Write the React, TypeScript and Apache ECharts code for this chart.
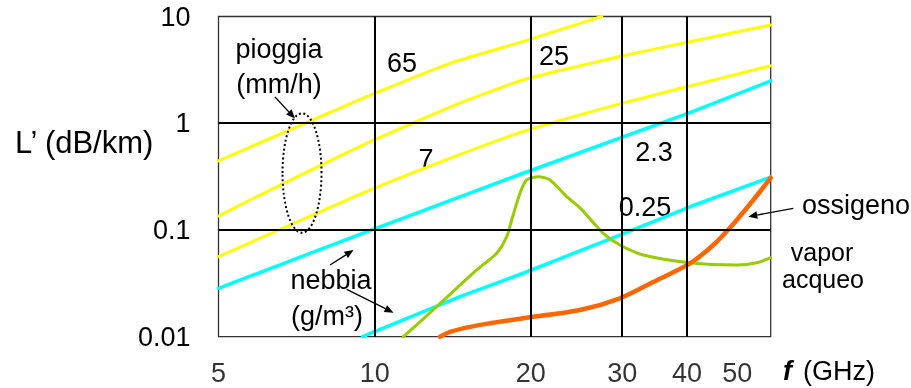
import { useEffect, useRef } from "react";
import * as echarts from "echarts";

// Specific attenuation L' (dB/km) versus frequency f (GHz).
// Rain curves, labelled by rain rate in mm/h
const rain65: [number, number][] = [[5, 0.443], [9.48, 1.71], [13.97, 3.64], [19.29, 5.81], [27.4, 10]];
const rain25: [number, number][] = [[5, 0.135], [5.75, 0.191], [9.48, 0.625], [14.29, 1.48], [19.29, 2.54], [29.58, 4.2], [40.54, 5.81], [58, 8.32]];
const rain7: [number, number][] = [[5, 0.0562], [9.48, 0.221], [13.97, 0.469], [19.29, 0.833], [29.58, 1.51], [40.54, 2.23], [58, 3.46]];
// Fog curves, labelled by liquid water content in g/m3
const fog23: [number, number][] = [[5, 0.0284], [9.48, 0.0931], [19.34, 0.34], [40.54, 1.255], [58, 2.49]];
const fog025: [number, number][] = [[9.48, 0.01], [14.61, 0.0237], [19.34, 0.0393], [29.71, 0.0897], [40.54, 0.165], [58, 0.313]];
// Water vapour absorption (line near 22 GHz)
const vapour: [number, number][] = [
  [11.36, 0.01], [13.17, 0.0191], [15.73, 0.0422], [17.19, 0.0605], [17.97, 0.0865], [18.37, 0.124],
  [19.06, 0.221], [19.64, 0.294], [20.67, 0.316], [21.78, 0.294], [23.46, 0.205], [24.88, 0.161],
  [27.6, 0.0931], [29.71, 0.0723], [32.95, 0.0583], [40.54, 0.0493], [49.88, 0.047], [54.5, 0.0493], [58, 0.0552],
];
// Oxygen absorption (rising towards 60 GHz)
const oxygen: [number, number][] = [
  [13.36, 0.01], [13.97, 0.0111], [15.96, 0.0129], [19.34, 0.0149], [24.88, 0.0178], [29.71, 0.0229],
  [34.44, 0.0325], [40.54, 0.0487], [44.96, 0.0723], [49.13, 0.1137], [53.69, 0.191], [58, 0.307],
];

const xTicks = [5, 10, 20, 30, 40, 50];
const xGridLines = [10, 20, 30, 40];
const yGridLines = [0.1, 1];
const X_MIN = 5;
const X_MAX = 58;
const Y_MIN = 0.01;
const Y_MAX = 10;

const FONT = "'Liberation Sans', Arial, sans-serif";
const YELLOW = "#FFFF00";
const CYAN = "#00FFFF";
const GREEN = "#99CC00";
const ORANGE = "#FF6600";

function curve(name: string, data: [number, number][], color: string, width: number, smooth: number | boolean) {
  return {
    name,
    type: "line",
    data,
    showSymbol: false,
    smooth,
    z: 3,
    silent: true,
    lineStyle: { color, width, cap: "round", join: "round" },
  };
}

function text(x: number, y: number, str: string, size = 27, align = "center", extra: any = {}) {
  return {
    type: "text",
    x,
    y,
    silent: true,
    style: { text: str, fontSize: size, fontFamily: FONT, fill: "#000", align, verticalAlign: "middle", ...extra },
  };
}

function arrow(x1: number, y1: number, x2: number, y2: number) {
  const a = Math.atan2(y2 - y1, x2 - x1);
  const len = 9;
  const w = 3.8;
  const bx = x2 - len * Math.cos(a);
  const by = y2 - len * Math.sin(a);
  const px = -Math.sin(a) * w;
  const py = Math.cos(a) * w;
  return [
    { type: "line", silent: true, shape: { x1, y1, x2: bx, y2: by }, style: { stroke: "#000", lineWidth: 1.3 } },
    {
      type: "polygon",
      silent: true,
      shape: { points: [[x2, y2], [bx + px, by + py], [bx - px, by - py]] },
      style: { fill: "#000" },
    },
  ];
}

export default function App() {
  const ref = useRef<HTMLDivElement>(null);

  useEffect(() => {
    if (!ref.current) return;
    const chart = echarts.init(ref.current, undefined, { renderer: "svg" });

    chart.setOption({
      animation: false,
      grid: {
        left: 218.5,
        right: 140.3,
        top: 16.5,
        bottom: 51.3,
        show: true,
        borderColor: "#333",
        borderWidth: 1.3,
        backgroundColor: "transparent",
      },
      xAxis: {
        type: "log",
        logBase: 10,
        min: X_MIN,
        max: X_MAX,
        axisLine: { show: false },
        axisTick: { show: false },
        axisLabel: { show: false },
        splitLine: { show: false },
      },
      yAxis: {
        type: "log",
        logBase: 10,
        min: Y_MIN,
        max: Y_MAX,
        axisLine: { show: false },
        axisTick: { show: false },
        splitLine: { show: false },
        axisLabel: {
          margin: 28,
          fontSize: 27,
          fontFamily: FONT,
          color: "#000",
          formatter: (v: number) => String(Number(v.toPrecision(2))),
        },
      },
      series: [
        {
          name: "ticks",
          type: "scatter",
          data: xTicks.map((v) => [v, Y_MIN]),
          symbolSize: 1,
          itemStyle: { color: "transparent" },
          clip: false,
          silent: true,
          z: 1,
          label: {
            show: true,
            position: [0.5, 36.5],
            align: "center",
            verticalAlign: "middle",
            fontSize: 27,
            fontFamily: FONT,
            color: "#000",
            formatter: (p: any) => String(p.value[0]),
          },
          markLine: {
            silent: true,
            symbol: "none",
            label: { show: false },
            lineStyle: { color: "#000", width: 2, type: "solid" },
            data: [
              ...xGridLines.map((v) => ({ xAxis: v })),
              ...yGridLines.map((v) => ({ yAxis: v })),
            ],
          },
        },
        curve("pioggia 65", rain65, YELLOW, 3, 0.15),
        curve("pioggia 25", rain25, YELLOW, 3, 0.15),
        curve("pioggia 7", rain7, YELLOW, 3, 0.15),
        curve("nebbia 2.3", fog23, CYAN, 3.5, false),
        curve("nebbia 0.25", fog025, CYAN, 3.5, false),
        curve("vapor acqueo", vapour, GREEN, 3, 0.25),
        curve("ossigeno", oxygen, ORANGE, 4.5, 0.25),
      ],
      graphic: [
        text(15, 142, "L\u2019 (dB/km)", 31, "left"),
        text(783, 371, "f", 27, "left", { fontWeight: "bold", fontStyle: "italic" }),
        text(803, 371, "(GHz)", 27, "left"),
        text(279, 49, "pioggia"),
        text(279, 84, "(mm/h)"),
        text(402, 63, "65"),
        text(554, 56, "25"),
        text(426, 159, "7"),
        text(654, 152, "2.3"),
        text(645, 207, "0.25"),
        text(331, 280, "nebbia"),
        text(327, 316, "(g/m\u00B3)"),
        text(856, 205, "ossigeno"),
        text(822, 252, "vapor", 25),
        text(823, 279, "acqueo", 25),
        {
          type: "ellipse",
          silent: true,
          shape: { cx: 302, cy: 173, rx: 19.5, ry: 59.7 },
          style: { fill: "none", stroke: "#000", lineWidth: 2, lineDash: [2, 2.5] },
          z: 10,
        },
        ...arrow(275, 97, 295, 118.5),
        ...arrow(330, 265, 353.5, 250),
        ...arrow(346.7, 289.3, 393.5, 312.7),
        ...arrow(793.3, 208.3, 748.3, 216.7),
      ],
    });

    return () => chart.dispose();
  }, []);

  return <div ref={ref} style={{ position: "fixed", left: 0, top: 0, width: 911, height: 388 }} />;
}
